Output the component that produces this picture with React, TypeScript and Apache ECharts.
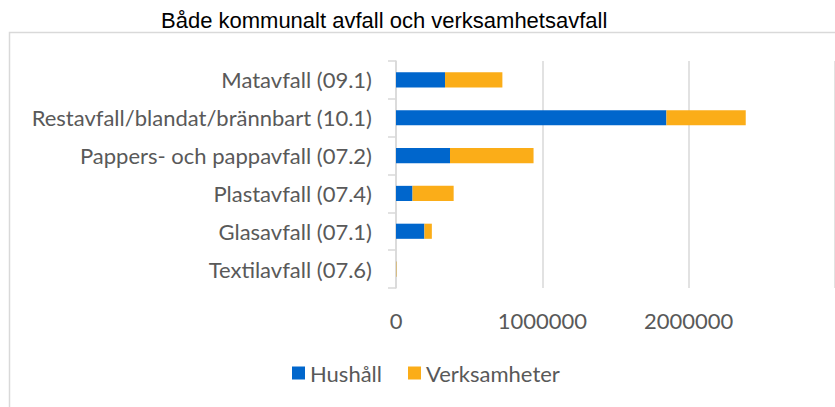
import React, { useEffect, useRef } from "react";
import * as echarts from "echarts";

const categories = [
  "Matavfall (09.1)",
  "Restavfall/blandat/brännbart (10.1)",
  "Pappers- och pappavfall (07.2)",
  "Plastavfall (07.4)",
  "Glasavfall (07.1)",
  "Textilavfall (07.6)",
];
const hushall = [335000, 1848000, 369000, 113000, 194000, 1000];
const verksamheter = [392000, 542000, 571000, 281000, 51000, 3000];
const seriesNames = ["Hushåll", "Verksamheter"];
const titleText = "Både kommunalt avfall och verksamhetsavfall";

const LABEL_FONT = "Lato, Carlito, Calibri, 'Noto Sans', sans-serif";

export default function App() {
  const ref = useRef<HTMLDivElement>(null);
  useEffect(() => {
    if (!ref.current) return;
    const chart = echarts.init(ref.current, null, { renderer: "svg" });
    chart.setOption({
      animation: false,
      backgroundColor: "#ffffff",
      title: {
        text: titleText,
        left: 156,
        top: 4,
        textStyle: {
          fontFamily: "'Liberation Sans', Arial, sans-serif",
          fontSize: 22,
          fontWeight: "normal",
          color: "#000000",
        },
      },
      graphic: [
        {
          type: "rect",
          left: 7,
          top: 30,
          shape: { width: 900, height: 500 },
          style: { fill: "none", stroke: "#d9d9d9", lineWidth: 1.5 },
          silent: true,
          z: -1,
        },
      ],
      legend: {
        data: seriesNames,
        left: 292,
        top: 362,
        padding: 0,
        icon: "rect",
        itemWidth: 13,
        itemHeight: 13,
        itemGap: 26,
        textStyle: { fontFamily: LABEL_FONT, fontSize: 22, color: "#595959" },
      },
      grid: { left: 396, top: 61, width: 445, height: 227, containLabel: false },
      xAxis: {
        type: "value",
        min: 0,
        max: 3000000,
        interval: 1000000,
        axisLine: { show: false },
        axisTick: { show: false },
        splitLine: { show: true, lineStyle: { color: "#d9d9d9", width: 1.5 } },
        axisLabel: {
          margin: 21,
          showMaxLabel: false,
          formatter: (v: number) => String(v),
          fontFamily: LABEL_FONT,
          fontSize: 22,
          color: "#595959",
        },
      },
      yAxis: {
        type: "category",
        data: categories,
        inverse: true,
        axisLine: { show: true, lineStyle: { color: "#d9d9d9", width: 1.5 } },
        axisTick: { show: true, length: 8, lineStyle: { color: "#d9d9d9", width: 1.5 } },
        axisLabel: {
          margin: 24,
          fontFamily: LABEL_FONT,
          fontSize: 22,
          color: "#595959",
        },
      },
      series: [
        {
          name: seriesNames[0],
          type: "bar",
          stack: "total",
          data: hushall,
          barWidth: "40%",
          itemStyle: { color: "#0066cc" },
        },
        {
          name: seriesNames[1],
          type: "bar",
          stack: "total",
          data: verksamheter,
          barWidth: "40%",
          itemStyle: { color: "#fbad18" },
        },
      ],
    });
    return () => chart.dispose();
  }, []);
  return (
    <div
      ref={ref}
      style={{ position: "fixed", left: 0, top: 0, width: 835, height: 407 }}
    />
  );
}
